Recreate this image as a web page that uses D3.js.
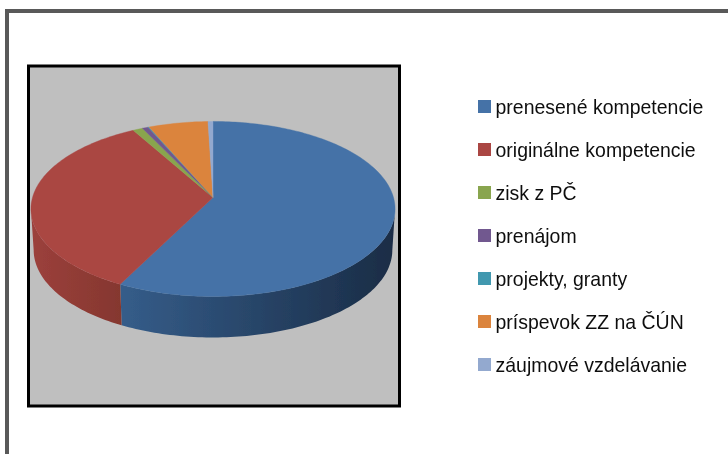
<!DOCTYPE html>
<html>

<head>
    <meta charset="utf-8">
    <style>
        html, body { margin: 0; padding: 0; background: #fff; overflow: hidden; }
        svg { display: block; }
        .legend text { font-family: "Liberation Sans", Arial, sans-serif; font-size: 20.5px; fill: #111; }
    </style>
    <script src="https://d3js.org/d3.v7.min.js"></script>
</head>

<body>
    <svg width="728" height="454"></svg>
    <script>
        var categories = ["prenesené kompetencie", "originálne kompetencie", "zisk z PČ", "prenájom",
            "projekty, granty", "príspevok ZZ na ČÚN", "záujmové vzdelávanie"];
        var values = [57.5, 34.3, 1.0, 0.6, 0.1, 6.0, 0.5];
        var colors = ["#4572a7", "#aa4643", "#89a54e", "#71588f", "#4198af", "#db843d", "#93a9cf"];
        var sideLeft = ["#355d8a", "#9c403c", "#7a9245", "#63507f", "#3a8a9c", "#c4763a", "#8297b8"];
        var sideRight = ["#1a2c45", "#85372f", "#7a9245", "#63507f", "#3a8a9c", "#c4763a", "#8297b8"];

        var svg = d3.select("svg");
        var defs = svg.append("defs");
        defs.append("filter").attr("id", "soft")
            .append("feGaussianBlur").attr("stdDeviation", 0.6);
        defs.append("filter").attr("id", "softText")
            .append("feGaussianBlur").attr("stdDeviation", 0.3);

        // outer frame: only the top and left edges show
        svg.append("path").attr("d", "M7,454V11H728")
            .attr("fill", "none").attr("stroke", "#595959").attr("stroke-width", 4);

        // plot box
        svg.append("rect").attr("x", 28.5).attr("y", 66).attr("width", 371).attr("height", 340)
            .attr("fill", "#bfbfbf").attr("stroke", "#000").attr("stroke-width", 3);

        // pie in perspective: unit circle goes through a projective map
        var cx = 213, cy = 197.5, R = 180.5, S = 86, K = -0.131, depth = 41, shrink = 0.985;
        var sx = d3.scaleLinear().domain([-1, 1]).range([-R, R]);
        var sy = d3.scaleLinear().domain([-1, 1]).range([-S, S]);

        function project(a) {
            var u = Math.sin(a), v = -Math.cos(a), w = 1 + K * v;
            return [cx + sx(u) / w, cy + sy(v) / w];
        }
        function projectLow(a) {
            var p = project(a);
            return [cx + (p[0] - cx) * shrink, p[1] + depth];
        }
        function sweep(a0, a1, fn) {
            var n = Math.max(2, Math.ceil((a1 - a0) / 0.02));
            return d3.range(n + 1).map(function (i) { return fn(a0 + (a1 - a0) * i / n); });
        }

        var arcs = d3.pie().sort(null).value(function (d) { return d; })(values);
        var line = d3.line();
        var frontFrom = Math.acos(K), frontTo = 2 * Math.PI - Math.acos(K);

        var pieG = svg.append("g").attr("filter", "url(#soft)");

        // side wall, only where it faces the viewer
        arcs.forEach(function (d, i) {
            var a0 = Math.max(d.startAngle, frontFrom), a1 = Math.min(d.endAngle, frontTo);
            if (a1 <= a0) return;
            var top = sweep(a0, a1, project), low = sweep(a0, a1, projectLow).reverse();
            var xs = top.map(function (p) { return p[0]; });
            var grad = defs.append("linearGradient").attr("id", "side" + i)
                .attr("gradientUnits", "userSpaceOnUse")
                .attr("x1", d3.min(xs)).attr("x2", d3.max(xs)).attr("y1", 0).attr("y2", 0);
            grad.append("stop").attr("offset", 0).attr("stop-color", sideLeft[i]);
            grad.append("stop").attr("offset", 1).attr("stop-color", sideRight[i]);
            pieG.append("path")
                .attr("d", line(top.concat(low)) + "Z")
                .attr("fill", "url(#side" + i + ")");
        });

        // top face
        arcs.forEach(function (d, i) {
            var pts = [[cx, cy]].concat(sweep(d.startAngle, d.endAngle, project));
            pieG.append("path")
                .attr("d", line(pts) + "Z")
                .attr("fill", colors[i])
                .attr("stroke", colors[i])
                .attr("stroke-width", 0.4);
        });

        // legend
        var ly = d3.scalePoint().domain(categories).range([106.5, 364.5]);
        var legend = svg.append("g").attr("class", "legend");
        var item = legend.selectAll("g").data(categories).enter().append("g")
            .attr("transform", function (d) { return "translate(478," + ly(d) + ")"; });
        item.append("rect").attr("y", -6.5).attr("width", 13).attr("height", 13)
            .attr("fill", function (d, i) { return colors[i]; });
        // reference type is a little narrower than the font
        item.append("text").attr("transform", "translate(17.5,7) scale(0.95,1)")
            .attr("filter", "url(#softText)")
            .text(function (d) { return d; });
    </script>
</body>

</html>
